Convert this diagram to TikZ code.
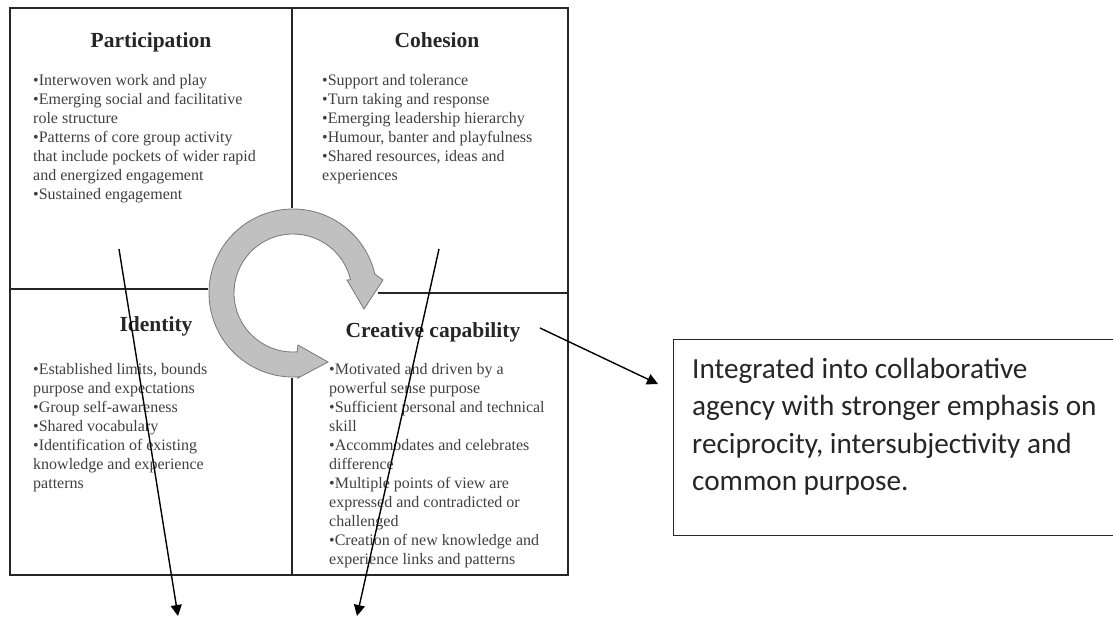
\documentclass[tikz,border=0pt]{standalone}
\usepackage{fontspec}
\setmainfont{Liberation Serif}
\newfontfamily\calib{Carlito}
\usetikzlibrary{arrows.meta,calc}
\definecolor{ringgray}{RGB}{192,192,192}
\definecolor{ringedge}{RGB}{120,120,120}
\begin{document}
\begin{tikzpicture}[x=1pt,y=-1pt,
  frame/.style={line width=2pt, draw=black!85},
  qtitle/.style={font=\fontsize{21.5}{24}\selectfont\bfseries, text=black!85, inner sep=0, anchor=base},
  qbody/.style={font=\fontsize{16}{19}\selectfont, text=black!75, inner sep=0, anchor=base west, align=left},
  ptr/.style={line width=1.4pt, draw=black, -{Triangle[length=11pt,width=11pt]}},
]
\useasboundingbox (0,0) rectangle (1113,618);
\fill[white] (0,0) rectangle (1113,618);
% frame and dividers
\draw[frame] (10,8) rectangle (568,575);
\draw[frame] (292,8) -- (292,575);
\draw[frame] (10,289) -- (292,289);
\draw[frame] (292,293) -- (568,293);
% circular double arrow
\coordinate (c) at (293,293);
\fill[white] (c) circle[radius=85];
\filldraw[fill=ringgray, draw=ringedge, line width=0.8pt]
  ($(c)+(-13:84)$) -- (383,280) -- (364,309) -- (347,280) -- ($(c)+(-13:59)$)
  arc[start angle=-13, end angle=-274, radius=59]
  -- (298,345) -- (328,362) -- (298,378) -- ($(c)+(-274:84)$)
  arc[start angle=-274, end angle=-13, radius=84] -- cycle;
% titles
\node[qtitle] (tp) at (151,48) {Participation};
\node[qtitle] (tc) at (437,48) {Cohesion};
\node[qtitle] (ti) at (156,331) {Identity};
\node[qtitle] (tcc) at (433,337) {Creative capability};
% bodies (base anchor = baseline of last line)
\node[qbody] (bp) at (33,199) {•Interwoven work and play\\•Emerging social and facilitative\\role structure\\•Patterns of core group activity\\that include pockets of wider rapid\\and energized engagement\\•Sustained engagement};
\node[qbody] (bc) at (322,180) {•Support and tolerance\\•Turn taking and response\\•Emerging leadership hierarchy\\•Humour, banter and playfulness\\•Shared resources, ideas and\\experiences};
\node[qbody] (bi) at (33,488) {•Established limits, bounds\\purpose and expectations\\•Group self-awareness\\•Shared vocabulary\\•Identification of existing\\knowledge and experience\\patterns};
\node[qbody] (bcc) at (329,564) {•Motivated and driven by a\\powerful sense purpose\\•Sufficient personal and technical\\skill\\•Accommodates and celebrates\\difference\\•Multiple points of view are\\expressed and contradicted or\\challenged\\•Creation of new knowledge and\\experience links and patterns};
% right box
\node[draw=black!85, line width=1.4pt, anchor=north west, minimum width=460pt, minimum height=196pt, inner sep=0] (box) at (673,339) {};
\node[font=\calib\fontsize{29.2}{37.5}\selectfont, anchor=base west, align=left, inner sep=0, text=black!85] (boxtext) at (692,490.5) {Integrated into collaborative\\agency with stronger emphasis on\\reciprocity, intersubjectivity and\\common purpose.};
% long arrows
\coordinate (a1s) at (119,249);
\coordinate (a1e) at (178,616);
\coordinate (a2s) at (439,249);
\coordinate (a2e) at (357,616);
\coordinate (a3s) at (540,328);
\coordinate (a3e) at (658,384);
\draw[ptr] (a1s) -- (a1e);
\draw[ptr] (a2s) -- (a2e);
\draw[ptr] (a3s) -- (a3e);
\end{tikzpicture}
\end{document}
